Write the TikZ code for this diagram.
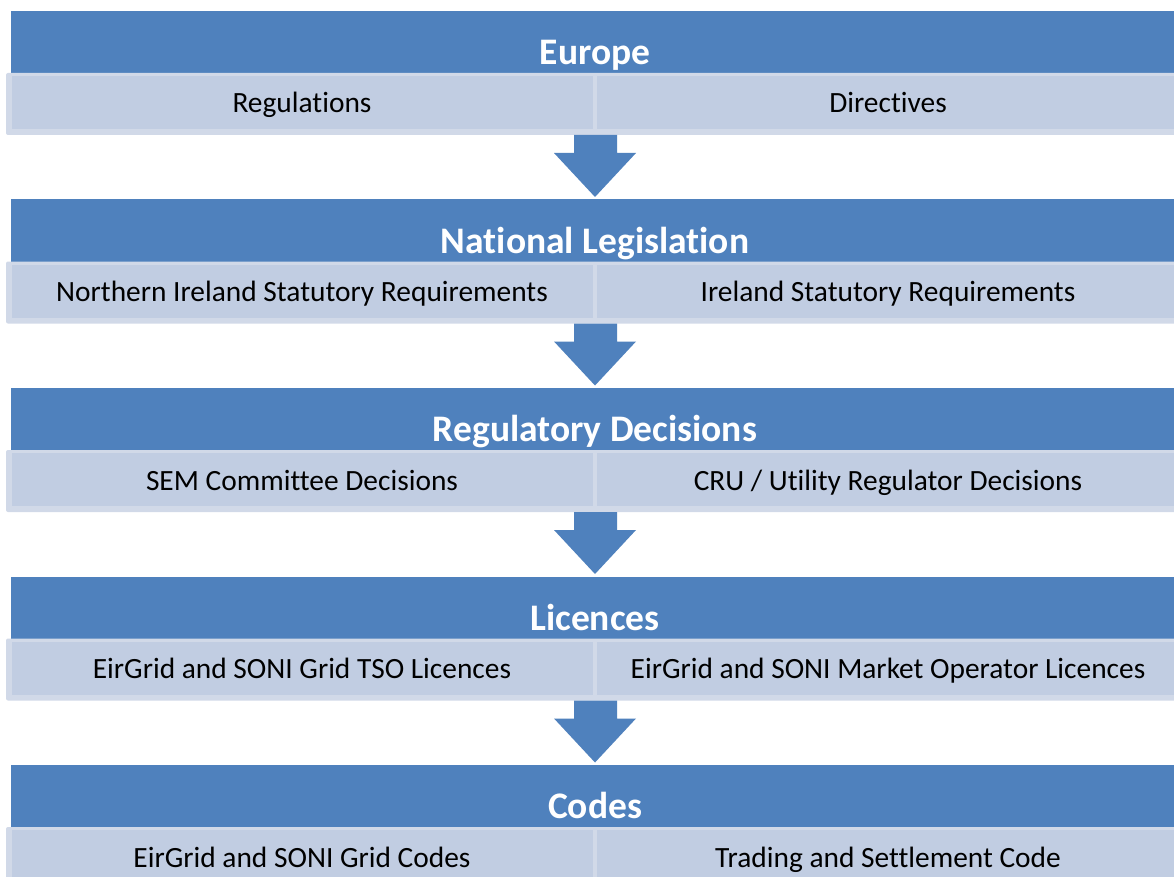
\documentclass[tikz,border=0pt]{standalone}
\usepackage{fontspec}
\setmainfont{Carlito}[Ligatures=NoCommon]
\definecolor{hdr}{HTML}{4F81BD}
\definecolor{subfill}{HTML}{C1CDE2}
\definecolor{subedge}{HTML}{D1D9E8}
\tikzset{
  htext/.style={anchor=base, inner sep=0pt, text=white, font=\fontsize{37.5}{40}\selectfont\bfseries},
  stext/.style={anchor=base, inner sep=0pt, text=black, font=\fontsize{29.4}{32}\selectfont},
  hdrbar/.style={fill=hdr},
  subbar/.style={fill=subedge, rounded corners=2pt},
  subcell/.style={fill=subfill},
  flowarrow/.style={fill=hdr}
}
\newcommand\myband[7]{%
  \fill[hdrbar] (11,#1) rectangle (1180,#1+62);
  \fill[subbar] (6,#1+62) rectangle (1190,#1+124);
  \fill[subcell] (12,#1+65) rectangle (593,#1+118);
  \fill[subcell] (597,#1+65) rectangle (1190,#1+118);
  \node[htext] (#2) at (595,#1+53.5) {#3};
  \node[stext] (#4) at (302,#1+102) {#5};
  \node[stext] (#6) at (888,#1+102) {#7};
}
\newcommand\myarrow[1]{%
  \fill[flowarrow] (574,#1+124) -- (617,#1+124) -- (617,#1+142) -- (636,#1+142)
     -- (595,#1+186) -- (554,#1+142) -- (574,#1+142) -- cycle;
}
\begin{document}
\begin{tikzpicture}[x=1pt,y=-1pt]
\useasboundingbox (0,0) rectangle (1174,877);
\clip (0,0) rectangle (1174,877);
\fill[white] (0,0) rectangle (1174,877);
\myband{11}{h1}{Europe}{l1}{Regulations}{r1}{Directives}
\myarrow{11}
\myband{199.5}{h2}{National Legislation}{l2}{Northern Ireland Statutory Requirements}{r2}{Ireland Statutory Requirements}
\myarrow{199.5}
\myband{388}{h3}{Regulatory Decisions}{l3}{SEM Committee Decisions}{r3}{CRU / Utility Regulator Decisions}
\myarrow{388}
\myband{576.5}{h4}{Licences}{l4}{EirGrid and SONI Grid TSO Licences}{r4}{EirGrid and SONI Market Operator Licences}
\myarrow{576.5}
\myband{765}{h5}{Codes}{l5}{EirGrid and SONI Grid Codes}{r5}{Trading and Settlement Code}
\end{tikzpicture}
\end{document}
